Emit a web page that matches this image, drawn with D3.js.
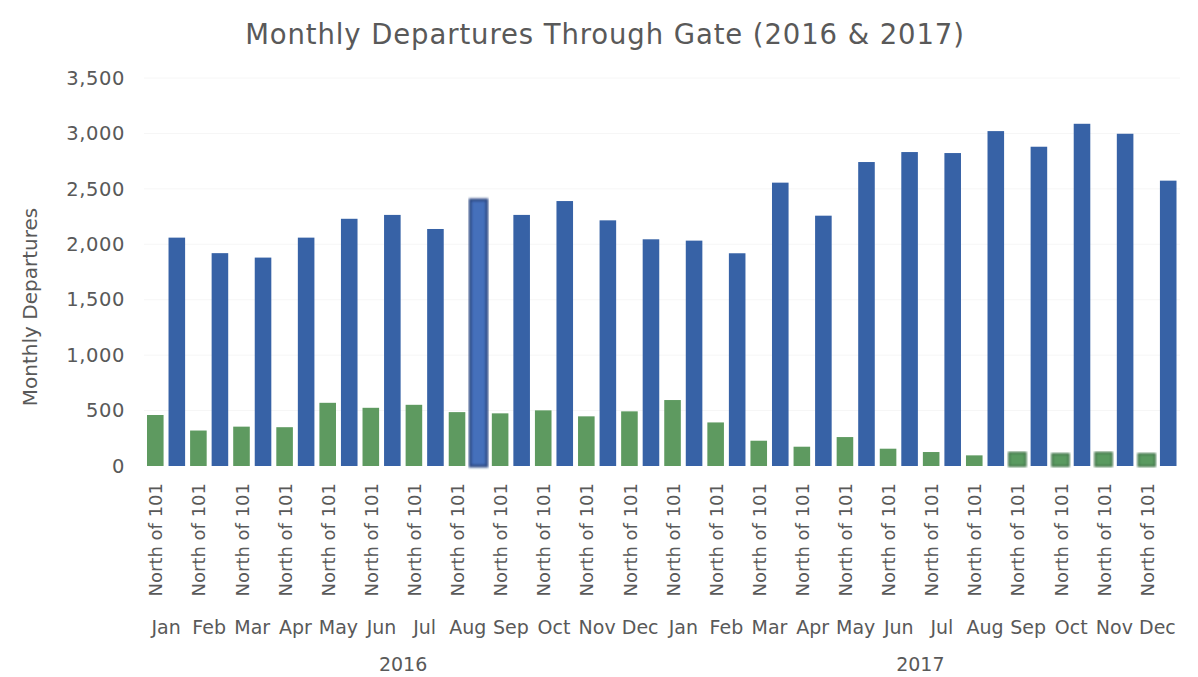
<!DOCTYPE html>
<html>
<head>
<meta charset="utf-8">
<script src="https://cdn.jsdelivr.net/npm/d3@7/dist/d3.min.js"></script>
<style>
  html, body { margin: 0; padding: 0; background: #fff; }
  svg { display: block; font-family: "DejaVu Sans", Verdana, sans-serif; }
</style>
</head>
<body>
<svg id="chart" width="1198" height="677"></svg>
<script>
// Monthly departures through the gate, two series per month
const years = ["2016", "2017"];
const months = ["Jan", "Feb", "Mar", "Apr", "May", "Jun", "Jul", "Aug", "Sep", "Oct", "Nov", "Dec"];
const gateLabel = "North of 101";

const greenValues2016 = [460, 320, 355, 350, 570, 525, 552, 486, 475, 502, 448, 493];
const greenValues2017 = [595, 393, 228, 174, 261, 156, 126, 96, 120, 108, 120, 108];
const blueValues2016 = [2060, 1920, 1880, 2060, 2230, 2265, 2138, 2400, 2265, 2390, 2216, 2045];
const blueValues2017 = [2033, 1919, 2556, 2258, 2742, 2832, 2823, 3021, 2880, 3087, 2997, 2574];

const yTicks = [0, 500, 1000, 1500, 2000, 2500, 3000, 3500];

const series = ["green", "blue"];
const colors = { green: "#5e9a60", blue: "#3762a6" };

// flat rows: one per year/month category
const rows = [];
years.forEach((yr, yi) => {
  months.forEach((m, mi) => {
    rows.push({
      key: yr + "-" + m,
      year: yr,
      month: m,
      green: (yi === 0 ? greenValues2016 : greenValues2017)[mi],
      blue: (yi === 0 ? blueValues2016 : blueValues2017)[mi]
    });
  });
});

const svg = d3.select("#chart");
const textColor = "#595959";

const x0 = d3.scaleBand()
  .domain(rows.map(d => d.key))
  .range([144.5, 1179])
  .paddingInner(0)
  .paddingOuter(0);

const x1 = d3.scaleBand()
  .domain(series)
  .range([0, x0.step()])
  .paddingInner(0.23)
  .paddingOuter(0.116);

const y = d3.scaleLinear().domain([0, 3500]).range([466, 78]);

// faint horizontal gridlines
svg.append("g")
  .selectAll("line")
  .data(yTicks.slice(1))
  .join("line")
  .attr("x1", 144).attr("x2", 1180)
  .attr("y1", d => y(d)).attr("y2", d => y(d))
  .attr("stroke", "#f6f6f6")
  .attr("stroke-width", 1);

// y axis labels
const yAxis = d3.axisLeft(y).tickValues(yTicks).tickFormat(d3.format(",")).tickSize(0).tickPadding(0);
const gy = svg.append("g").attr("transform", "translate(125,0)").call(yAxis);
gy.select(".domain").remove();
gy.selectAll("text")
  .attr("fill", textColor)
  .style("font-size", "19.5px")
  .style("letter-spacing", "0.6px")
  .attr("font-family", "DejaVu Sans, Verdana, sans-serif");

// y axis title
svg.append("text")
  .attr("transform", "translate(37,307) rotate(-90)")
  .attr("text-anchor", "middle")
  .attr("fill", textColor)
  .style("font-size", "20px")
  .text("Monthly Departures");

// chart title
svg.append("text")
  .attr("x", 605)
  .attr("y", 44)
  .attr("text-anchor", "middle")
  .attr("fill", textColor)
  .style("font-size", "27.5px")
  .style("letter-spacing", "0.9px")
  .text("Monthly Departures Through Gate (2016 & 2017)");

// bar highlight filters
const defs = svg.append("defs");
defs.append("filter").attr("id", "soft")
  .append("feGaussianBlur").attr("stdDeviation", 0.8);

const highlightedBlue = new Set(["2016-Aug"]);
const highlightedGreen = new Set(["2017-Sep", "2017-Oct", "2017-Nov", "2017-Dec"]);

const groups = svg.append("g")
  .selectAll("g")
  .data(rows)
  .join("g")
  .attr("transform", d => `translate(${x0(d.key)},0)`);

groups.selectAll("rect")
  .data(d => series.map(s => ({ s, key: d.key, value: d[s] })))
  .join("rect")
  .attr("x", d => x1(d.s))
  .attr("width", x1.bandwidth())
  .attr("y", d => y(d.value))
  .attr("height", d => y(0) - y(d.value))
  .attr("fill", d => {
    if (d.s === "blue" && highlightedBlue.has(d.key)) return "#4570bb";
    if (d.s === "green" && highlightedGreen.has(d.key)) return "#5a9a60";
    return colors[d.s];
  })
  .attr("stroke", d => {
    if (d.s === "blue" && highlightedBlue.has(d.key)) return "#2d4b86";
    if (d.s === "green" && highlightedGreen.has(d.key)) return "#3f7447";
    return "none";
  })
  .attr("stroke-width", d => (highlightedBlue.has(d.key) && d.s === "blue") ? 3 : 2)
  .attr("filter", d => ((d.s === "blue" && highlightedBlue.has(d.key)) || (d.s === "green" && highlightedGreen.has(d.key))) ? "url(#soft)" : null);

// category labels: gate (rotated), month, year
const labelG = svg.append("g");
labelG.selectAll("text.gate")
  .data(rows)
  .join("text")
  .attr("class", "gate")
  .attr("transform", d => `translate(${x0(d.key) + x0.bandwidth() / 2 - 10},483) rotate(-90)`)
  .attr("dy", "0.35em")
  .attr("text-anchor", "end")
  .attr("fill", textColor)
  .style("font-size", "18px")
  .text(gateLabel);

labelG.selectAll("text.month")
  .data(rows)
  .join("text")
  .attr("class", "month")
  .attr("x", d => x0(d.key) + x0.bandwidth() / 2)
  .attr("y", 634)
  .attr("text-anchor", "middle")
  .attr("fill", textColor)
  .style("font-size", "19px")
  .text(d => d.month);

labelG.selectAll("text.year")
  .data(years)
  .join("text")
  .attr("class", "year")
  .attr("x", yr => {
    const first = x0(yr + "-" + months[0]) + x0.bandwidth() / 2;
    const last = x0(yr + "-" + months[months.length - 1]) + x0.bandwidth() / 2;
    return (first + last) / 2;
  })
  .attr("y", 671)
  .attr("text-anchor", "middle")
  .attr("fill", textColor)
  .style("font-size", "19px")
  .text(yr => yr);
</script>
</body>
</html>
